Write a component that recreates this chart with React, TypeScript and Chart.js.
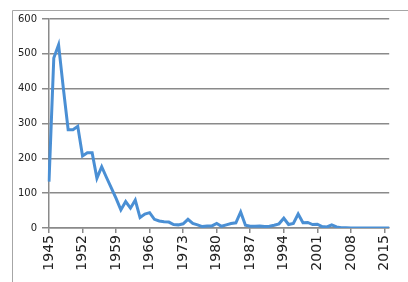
import React, { useEffect, useRef } from "react";
import { Chart, registerables } from "chart.js";

Chart.register(...registerables);

const years: string[] = [];
for (let y = 1945; y <= 2016; y++) years.push(String(y));

const values: number[] = [
  133, 488, 526, 400, 282, 282, 292, 207, 216, 216, // 1945-1954
  143, 176, 145, 115, 85, 52, 76, 57, 80, 30, // 1955-1964
  40, 44, 25, 20, 18, 17, 10, 9, 12, 25, // 1965-1974
  13, 9, 4, 6, 6, 13, 5, 9, 13, 15, // 1975-1984
  46, 8, 5, 5, 6, 4, 5, 8, 12, 28, // 1985-1994
  10, 13, 40, 15, 16, 10, 11, 4, 3, 9, // 1995-2004
  3, 1, 1, 0, 0, 0, 0, 0, 0, 0, // 2005-2014
  0, 0, // 2015-2016
];

const yTicks = [0, 100, 200, 300, 400, 500, 600];
const labelEvery = 7;

const framePlugin = {
  id: "frame",
  beforeDraw(chart: any) {
    const ctx = chart.ctx;
    ctx.save();
    ctx.strokeStyle = "#a6a6a6";
    ctx.lineWidth = 1;
    ctx.beginPath();
    ctx.moveTo(12.5, 282);
    ctx.lineTo(12.5, 10.5);
    ctx.lineTo(408, 10.5);
    ctx.stroke();
    ctx.restore();
  },
};

export default function App() {
  const ref = useRef<HTMLCanvasElement | null>(null);
  useEffect(() => {
    if (!ref.current) return;
    const chart = new Chart(ref.current, {
      type: "line",
      data: {
        labels: years,
        datasets: [
          {
            data: values,
            borderColor: "#4a8fd4",
            borderWidth: 3,
            pointRadius: 0,
            tension: 0,
            fill: false,
          },
        ],
      },
      options: {
        animation: false,
        responsive: false,
        maintainAspectRatio: false,
        layout: { padding: { top: 19, right: 2, left: 0, bottom: 0 } },
        plugins: { legend: { display: false }, tooltip: { enabled: false } },
        scales: {
          x: {
            type: "category",
            offset: false,
            afterFit: (s: any) => {
              s.height = 54;
            },
            grid: {
              drawOnChartArea: false,
              drawTicks: true,
              tickLength: 5,
              lineWidth: 1.5,
              color: (c: any) => (c.index % labelEvery === 0 ? "#8a8a8a" : "rgba(0,0,0,0)"),
            },
            border: { display: true, color: "#8a8a8a", width: 1.5 },
            ticks: {
              autoSkip: false,
              maxRotation: 90,
              minRotation: 90,
              padding: 2,
              color: "#222",
              font: { family: "DejaVu Sans", size: 14 },
              callback: (_v: any, i: number) => (i % labelEvery === 0 ? years[i] : ""),
            },
          },
          y: {
            min: 0,
            max: 600,
            afterFit: (s: any) => {
              s.width = 49;
            },
            afterBuildTicks: (s: any) => {
              s.ticks = yTicks.map((v) => ({ value: v }));
            },
            grid: {
              color: "#8a8a8a",
              lineWidth: 1.5,
              tickLength: 7,
            },
            border: { display: true, color: "#8a8a8a", width: 1.5 },
            ticks: {
              padding: 5,
              color: "#222",
              font: { family: "DejaVu Sans", size: 10 },
            },
          },
        },
      },
      plugins: [framePlugin],
    });
    return () => chart.destroy();
  }, []);
  return (
    <div style={{ position: "absolute", left: 0, top: 0, width: 408, height: 282, background: "#fff" }}>
      <canvas ref={ref} width={408} height={282} style={{ display: "block" }} />
    </div>
  );
}
